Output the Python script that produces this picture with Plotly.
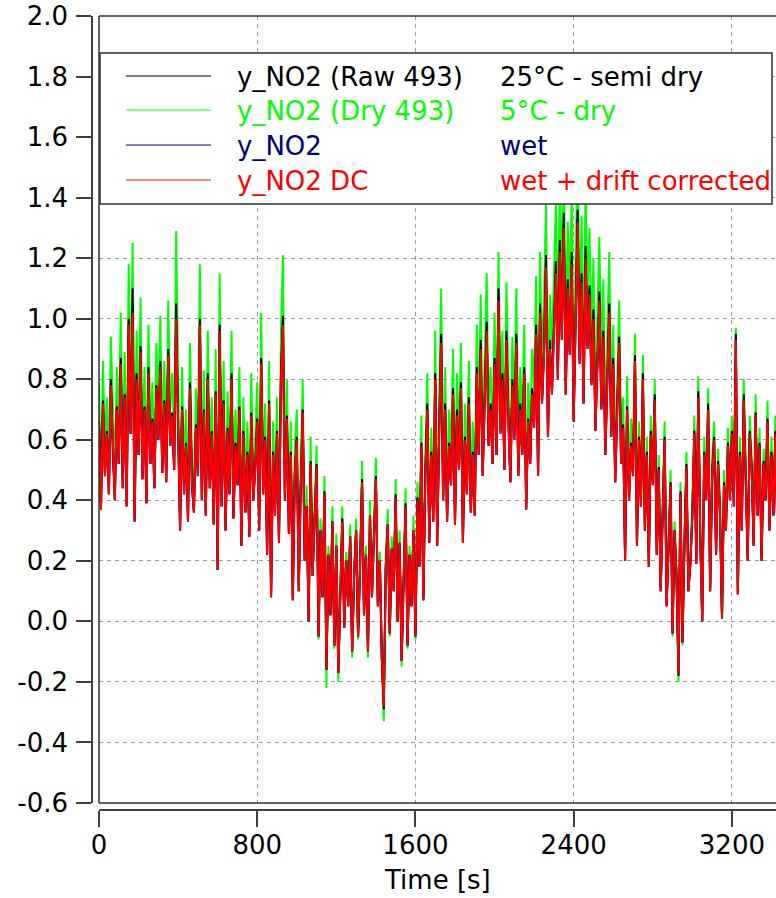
import plotly.graph_objects as go

# ---------------- data ----------------
time_s = list(range(0, 3500, 10))

y_dc = [
    0.65, 0.37, 0.72, 0.48, 0.62, 0.42, 0.78, 0.55, 0.40, 0.70,
    0.52, 0.85, 0.44, 0.74, 0.38, 0.98, 0.62, 1.02, 0.33, 0.80,
    0.55, 0.89, 0.47, 0.70, 0.39, 0.82, 0.52, 0.66, 0.44, 0.77,
    0.60, 0.84, 0.49, 0.72, 0.46, 0.88, 0.58, 0.68, 0.50, 1.00,
    0.62, 0.30, 0.70, 0.42, 0.58, 0.33, 0.77, 0.45, 0.36, 0.64,
    0.48, 0.98, 0.40, 0.69, 0.35, 0.80, 0.44, 0.62, 0.32, 0.75,
    0.17, 0.96, 0.38, 0.72, 0.30, 0.63, 0.42, 0.80, 0.34, 0.58,
    0.45, 0.70, 0.25, 0.62, 0.36, 0.55, 0.28, 0.68, 0.40, 0.50,
    0.66, 0.30, 0.85, 0.42, 0.60, 0.22, 0.72, 0.08, 0.55, 0.35,
    0.62, 0.26, 0.80, 0.98, 0.40, 0.67, 0.29, 0.55, 0.07, 0.48,
    0.60, 0.10, 0.44, 0.69, 0.20, 0.38, 0.00, 0.52, 0.15, 0.35,
    0.51, -0.05, 0.30, 0.08, 0.42, -0.16, 0.22, 0.02, 0.33, -0.08,
    0.25, -0.17, 0.12, 0.33, -0.02, 0.20, 0.05, 0.28, -0.10, 0.15,
    0.30, -0.05, 0.18, 0.46, 0.02, 0.22, -0.10, 0.35, 0.08, 0.27,
    0.47, 0.05, 0.20, -0.12, -0.28, 0.18, 0.32, -0.04, 0.24, 0.10,
    0.41, 0.00, 0.26, -0.13, 0.16, 0.38, -0.08, 0.22, 0.05, 0.30,
    -0.05, 0.40, 0.18, 0.58, 0.07, 0.48, 0.70, 0.26, 0.55, 0.33,
    0.80, 0.25, 0.62, 0.92, 0.40, 0.70, 0.33, 0.58, 0.45, 0.75,
    0.32, 0.68, 0.50, 0.77, 0.26, 0.60, 0.42, 0.72, 0.36, 0.55,
    0.35, 0.82, 0.55, 0.90, 0.48, 0.74, 0.96, 0.58, 0.70, 0.52,
    0.85, 0.55, 1.06, 0.62, 0.80, 0.50, 0.93, 0.66, 0.46, 0.78,
    0.60, 0.92, 0.48, 0.70, 0.55, 0.82, 0.37, 0.66, 0.52, 0.75,
    0.64, 0.95, 0.48, 1.02, 0.72, 0.88, 1.17, 0.61, 0.90, 0.75,
    0.98, 1.15, 0.80, 1.22, 0.93, 1.30, 0.75, 1.10, 0.88, 1.18,
    0.66, 1.05, 1.32, 0.85, 1.12, 0.72, 1.20, 0.90, 1.08, 0.78,
    1.00, 0.63, 0.88, 1.06, 0.70, 0.94, 0.55, 0.82, 1.02, 0.61,
    0.85, 0.46, 0.72, 0.92, 0.52, 0.64, 0.20, 0.70, 0.40, 0.58,
    0.48, 0.86, 0.25, 0.60, 0.38, 0.80, 0.30, 0.55, 0.18, 0.62,
    0.45, 0.73, 0.22, 0.50, 0.10, 0.38, 0.60, 0.05, 0.28, 0.45,
    -0.04, 0.30, 0.15, -0.17, 0.42, -0.07, 0.25, 0.51, 0.10, 0.19,
    0.35, 0.62, 0.19, 0.74, 0.28, 0.00, 0.55, 0.40, 0.70, 0.10,
    0.48, 0.60, 0.22, 0.52, 0.35, 0.01, 0.45, 0.30, 0.58, 0.40,
    0.62, 0.38, 0.93, 0.09, 0.55, 0.30, 0.73, 0.42, 0.20, 0.62,
    0.50, 0.25, 0.68, 0.35, 0.58, 0.20, 0.52, 0.40, 0.66, 0.30,
    0.55, 0.35, 0.62, 0.28, 0.50, 0.45, 0.60, 0.33, 0.52, 0.40,
]

y_wet = [
    0.65, 0.37, 0.72, 0.48, 0.62, 0.42, 0.78, 0.55, 0.40, 0.70,
    0.52, 0.85, 0.44, 0.74, 0.38, 0.98, 0.62, 1.03, 0.33, 0.80,
    0.55, 0.89, 0.47, 0.70, 0.39, 0.82, 0.52, 0.66, 0.44, 0.77,
    0.60, 0.84, 0.49, 0.72, 0.46, 0.88, 0.58, 0.68, 0.50, 1.01,
    0.62, 0.30, 0.70, 0.42, 0.58, 0.33, 0.77, 0.45, 0.36, 0.64,
    0.48, 0.98, 0.40, 0.69, 0.35, 0.80, 0.44, 0.62, 0.32, 0.75,
    0.17, 0.96, 0.38, 0.72, 0.30, 0.63, 0.42, 0.80, 0.34, 0.58,
    0.45, 0.70, 0.25, 0.62, 0.36, 0.55, 0.28, 0.68, 0.40, 0.50,
    0.66, 0.30, 0.85, 0.42, 0.60, 0.22, 0.72, 0.08, 0.55, 0.35,
    0.62, 0.26, 0.80, 0.98, 0.40, 0.67, 0.29, 0.55, 0.07, 0.48,
    0.60, 0.10, 0.44, 0.69, 0.20, 0.38, 0.00, 0.52, 0.15, 0.35,
    0.51, -0.05, 0.30, 0.08, 0.42, -0.16, 0.22, 0.02, 0.33, -0.08,
    0.25, -0.17, 0.12, 0.33, -0.02, 0.20, 0.05, 0.28, -0.10, 0.15,
    0.30, -0.05, 0.18, 0.46, 0.02, 0.22, -0.10, 0.35, 0.08, 0.27,
    0.47, 0.05, 0.20, -0.12, -0.28, 0.18, 0.32, -0.04, 0.24, 0.10,
    0.41, 0.00, 0.26, -0.13, 0.16, 0.38, -0.08, 0.22, 0.05, 0.30,
    -0.05, 0.40, 0.18, 0.58, 0.07, 0.48, 0.70, 0.26, 0.55, 0.33,
    0.80, 0.25, 0.62, 0.92, 0.40, 0.70, 0.33, 0.58, 0.45, 0.75,
    0.32, 0.68, 0.50, 0.77, 0.26, 0.60, 0.42, 0.72, 0.36, 0.55,
    0.35, 0.82, 0.55, 0.90, 0.48, 0.74, 0.96, 0.58, 0.70, 0.52,
    0.85, 0.55, 1.07, 0.62, 0.80, 0.50, 0.93, 0.66, 0.46, 0.78,
    0.60, 0.92, 0.48, 0.70, 0.55, 0.82, 0.37, 0.66, 0.52, 0.75,
    0.64, 0.95, 0.48, 1.02, 0.72, 0.88, 1.18, 0.61, 0.90, 0.75,
    0.98, 1.15, 0.80, 1.22, 0.93, 1.31, 0.75, 1.10, 0.88, 1.18,
    0.66, 1.05, 1.33, 0.85, 1.12, 0.72, 1.20, 0.90, 1.08, 0.78,
    1.00, 0.63, 0.88, 1.06, 0.70, 0.94, 0.55, 0.82, 1.02, 0.61,
    0.85, 0.46, 0.72, 0.92, 0.52, 0.64, 0.20, 0.70, 0.40, 0.58,
    0.48, 0.86, 0.25, 0.60, 0.38, 0.80, 0.30, 0.55, 0.18, 0.62,
    0.45, 0.73, 0.22, 0.50, 0.10, 0.38, 0.60, 0.05, 0.28, 0.45,
    -0.04, 0.30, 0.15, -0.17, 0.42, -0.07, 0.25, 0.51, 0.10, 0.19,
    0.35, 0.62, 0.19, 0.74, 0.28, 0.00, 0.55, 0.40, 0.70, 0.10,
    0.48, 0.60, 0.22, 0.52, 0.35, 0.01, 0.45, 0.30, 0.58, 0.40,
    0.62, 0.38, 0.94, 0.09, 0.55, 0.30, 0.73, 0.42, 0.20, 0.62,
    0.50, 0.25, 0.68, 0.35, 0.58, 0.20, 0.52, 0.40, 0.66, 0.30,
    0.55, 0.35, 0.62, 0.28, 0.50, 0.45, 0.60, 0.33, 0.52, 0.40,
]

y_raw = [
    0.66, 0.37, 0.73, 0.48, 0.63, 0.42, 0.80, 0.55, 0.40, 0.71,
    0.52, 0.87, 0.44, 0.75, 0.38, 1.00, 0.62, 1.10, 0.33, 0.82,
    0.55, 0.91, 0.47, 0.71, 0.39, 0.84, 0.52, 0.67, 0.44, 0.78,
    0.60, 0.86, 0.49, 0.73, 0.46, 0.90, 0.58, 0.69, 0.50, 1.05,
    0.62, 0.30, 0.71, 0.42, 0.59, 0.33, 0.79, 0.45, 0.36, 0.65,
    0.48, 1.00, 0.40, 0.70, 0.35, 0.82, 0.44, 0.63, 0.32, 0.76,
    0.17, 0.98, 0.38, 0.73, 0.30, 0.64, 0.42, 0.82, 0.34, 0.59,
    0.45, 0.71, 0.25, 0.63, 0.36, 0.56, 0.28, 0.69, 0.40, 0.51,
    0.67, 0.30, 0.87, 0.42, 0.61, 0.22, 0.73, 0.08, 0.56, 0.35,
    0.63, 0.26, 0.82, 1.01, 0.40, 0.68, 0.29, 0.56, 0.07, 0.49,
    0.61, 0.10, 0.45, 0.70, 0.20, 0.38, 0.00, 0.53, 0.15, 0.35,
    0.52, -0.05, 0.30, 0.08, 0.43, -0.16, 0.22, 0.02, 0.33, -0.08,
    0.25, -0.17, 0.12, 0.34, -0.02, 0.20, 0.05, 0.28, -0.10, 0.15,
    0.30, -0.05, 0.18, 0.47, 0.02, 0.22, -0.10, 0.35, 0.08, 0.27,
    0.48, 0.05, 0.20, -0.12, -0.29, 0.18, 0.32, -0.04, 0.24, 0.10,
    0.42, 0.00, 0.26, -0.13, 0.16, 0.39, -0.08, 0.22, 0.05, 0.30,
    -0.05, 0.41, 0.18, 0.59, 0.07, 0.49, 0.72, 0.26, 0.56, 0.33,
    0.82, 0.25, 0.63, 0.95, 0.40, 0.72, 0.33, 0.59, 0.45, 0.77,
    0.32, 0.70, 0.50, 0.79, 0.26, 0.61, 0.42, 0.74, 0.36, 0.56,
    0.35, 0.84, 0.55, 0.93, 0.48, 0.76, 0.99, 0.58, 0.72, 0.52,
    0.87, 0.55, 1.10, 0.63, 0.82, 0.50, 0.96, 0.67, 0.46, 0.80,
    0.61, 0.95, 0.48, 0.72, 0.55, 0.84, 0.37, 0.67, 0.52, 0.77,
    0.65, 0.98, 0.48, 1.05, 0.73, 0.90, 1.21, 0.61, 0.93, 0.76,
    1.01, 1.19, 0.80, 1.26, 0.95, 1.35, 0.75, 1.13, 0.89, 1.22,
    0.66, 1.08, 1.36, 0.86, 1.15, 0.72, 1.24, 0.91, 1.11, 0.79,
    1.03, 0.63, 0.90, 1.09, 0.71, 0.96, 0.55, 0.84, 1.05, 0.61,
    0.87, 0.46, 0.73, 0.94, 0.52, 0.65, 0.20, 0.71, 0.40, 0.59,
    0.49, 0.88, 0.25, 0.61, 0.38, 0.82, 0.30, 0.56, 0.18, 0.63,
    0.46, 0.75, 0.22, 0.51, 0.10, 0.39, 0.61, 0.05, 0.28, 0.46,
    -0.04, 0.30, 0.15, -0.18, 0.43, -0.07, 0.25, 0.52, 0.10, 0.19,
    0.35, 0.63, 0.19, 0.76, 0.28, 0.00, 0.56, 0.40, 0.72, 0.10,
    0.49, 0.61, 0.22, 0.53, 0.35, 0.01, 0.46, 0.30, 0.59, 0.40,
    0.63, 0.38, 0.95, 0.09, 0.56, 0.30, 0.75, 0.42, 0.20, 0.63,
    0.51, 0.25, 0.69, 0.35, 0.59, 0.20, 0.53, 0.40, 0.67, 0.30,
    0.56, 0.35, 0.63, 0.28, 0.51, 0.45, 0.61, 0.33, 0.53, 0.40,
]

y_dry = [
    0.78, 0.44, 0.86, 0.58, 0.74, 0.50, 0.94, 0.66, 0.48, 0.84,
    0.62, 1.02, 0.53, 0.89, 0.46, 1.18, 0.74, 1.25, 0.40, 0.96,
    0.66, 1.07, 0.56, 0.84, 0.47, 0.98, 0.62, 0.79, 0.53, 0.92,
    0.72, 1.01, 0.59, 0.86, 0.55, 1.06, 0.70, 0.82, 0.60, 1.29,
    0.74, 0.36, 0.84, 0.50, 0.70, 0.40, 0.92, 0.54, 0.43, 0.77,
    0.58, 1.18, 0.48, 0.83, 0.42, 0.96, 0.53, 0.74, 0.38, 0.90,
    0.20, 1.15, 0.46, 0.86, 0.36, 0.76, 0.50, 0.96, 0.41, 0.70,
    0.54, 0.84, 0.30, 0.74, 0.43, 0.66, 0.34, 0.82, 0.48, 0.60,
    0.79, 0.36, 1.02, 0.50, 0.72, 0.26, 0.86, 0.10, 0.66, 0.42,
    0.74, 0.31, 0.96, 1.21, 0.48, 0.80, 0.35, 0.66, 0.08, 0.58,
    0.70, 0.12, 0.52, 0.80, 0.24, 0.45, 0.00, 0.61, 0.18, 0.41,
    0.58, -0.06, 0.34, 0.09, 0.48, -0.22, 0.25, 0.02, 0.38, -0.09,
    0.29, -0.20, 0.14, 0.38, -0.02, 0.23, 0.06, 0.32, -0.12, 0.17,
    0.34, -0.06, 0.21, 0.53, 0.02, 0.25, -0.12, 0.40, 0.09, 0.31,
    0.54, 0.06, 0.23, -0.14, -0.33, 0.21, 0.37, -0.05, 0.28, 0.12,
    0.47, 0.00, 0.30, -0.15, 0.18, 0.44, -0.09, 0.25, 0.06, 0.35,
    -0.06, 0.46, 0.21, 0.68, 0.08, 0.56, 0.82, 0.30, 0.64, 0.38,
    0.96, 0.30, 0.74, 1.10, 0.48, 0.84, 0.40, 0.70, 0.54, 0.90,
    0.38, 0.82, 0.60, 0.92, 0.31, 0.72, 0.50, 0.86, 0.43, 0.66,
    0.42, 0.98, 0.66, 1.08, 0.58, 0.89, 1.15, 0.70, 0.84, 0.62,
    1.02, 0.66, 1.22, 0.74, 0.96, 0.60, 1.12, 0.79, 0.55, 0.94,
    0.72, 1.10, 0.58, 0.84, 0.66, 0.98, 0.44, 0.79, 0.62, 0.90,
    0.77, 1.14, 0.58, 1.22, 0.86, 1.06, 1.38, 0.73, 1.08, 0.90,
    1.18, 1.38, 0.96, 1.46, 1.12, 1.56, 0.90, 1.32, 1.06, 1.42,
    0.79, 1.26, 1.58, 1.02, 1.34, 0.86, 1.44, 1.08, 1.30, 0.94,
    1.20, 0.76, 1.06, 1.27, 0.84, 1.13, 0.66, 0.98, 1.22, 0.73,
    0.98, 0.53, 0.83, 1.06, 0.60, 0.74, 0.23, 0.81, 0.46, 0.67,
    0.53, 0.95, 0.28, 0.66, 0.42, 0.88, 0.33, 0.61, 0.20, 0.68,
    0.50, 0.80, 0.24, 0.55, 0.11, 0.42, 0.66, 0.06, 0.31, 0.50,
    -0.05, 0.33, 0.17, -0.20, 0.46, -0.08, 0.28, 0.56, 0.11, 0.21,
    0.39, 0.68, 0.21, 0.81, 0.31, 0.00, 0.61, 0.44, 0.77, 0.11,
    0.53, 0.66, 0.24, 0.57, 0.39, 0.01, 0.50, 0.33, 0.64, 0.44,
    0.68, 0.42, 0.97, 0.10, 0.61, 0.33, 0.80, 0.46, 0.22, 0.68,
    0.55, 0.28, 0.75, 0.39, 0.64, 0.22, 0.57, 0.44, 0.73, 0.33,
    0.61, 0.39, 0.68, 0.31, 0.55, 0.50, 0.66, 0.36, 0.57, 0.44,
]

series_names = ["y_NO2 (Raw 493)", "y_NO2 (Dry 493)", "y_NO2", "y_NO2 DC"]
series_notes = ["25°C - semi dry", "5°C - dry", "wet", "wet + drift corrected"]
series_colors = ["#000000", "#00ff00", "#000080", "#ff0000"]
series_values = [y_raw, y_dry, y_wet, y_dc]

x_ticks = [0, 800, 1600, 2400, 3200]
y_ticks = [-0.6, -0.4, -0.2, 0.0, 0.2, 0.4, 0.6, 0.8, 1.0, 1.2, 1.4, 1.6, 1.8, 2.0]

# ---------------- figure ----------------
W, H = 776, 898
ML, MR, MT, MB = 92, 0, 16, 88
PX0, PY1 = 99, 803          # plot-frame left / bottom pixel
fig = go.Figure()

draw_order = [1, 0, 2, 3]   # dry underneath, DC on top
for i in draw_order:
    fig.add_trace(go.Scatter(
        x=time_s, y=series_values[i], mode="lines",
        line=dict(color=series_colors[i], width=2),
        name=series_names[i], showlegend=False, hoverinfo="skip"))

axis_col = "#404040"
grid_col = "#9a9a9a"
fig.update_layout(
    width=W, height=H,
    margin=dict(l=ML, r=MR, t=MT, b=MB, pad=0),
    plot_bgcolor="white", paper_bgcolor="white",
    font=dict(family="DejaVu Sans", size=26, color="black"),
    showlegend=False,
    xaxis=dict(
        domain=[(PX0 - ML) / (W - ML - MR), 1], range=[0, 3423],
        anchor="free", position=0,
        tickvals=x_ticks, ticktext=[str(v) for v in x_ticks],
        ticks="outside", ticklen=16, tickwidth=1.5, tickcolor=axis_col,
        showline=True, linecolor=axis_col, linewidth=1.5,
        showgrid=True, gridcolor=grid_col, griddash="4px,4px", gridwidth=1,
        zeroline=False, ticklabelstandoff=-4,
    ),
    yaxis=dict(
        domain=[(H - MB - PY1) / (H - MT - MB), 1], range=[-0.6, 2.0],
        anchor="free", position=0,
        tickvals=y_ticks, ticktext=["%.1f" % v for v in y_ticks],
        ticks="outside", ticklen=15, tickwidth=1.5, tickcolor=axis_col,
        showline=True, linecolor=axis_col, linewidth=1.5,
        showgrid=True, gridcolor=grid_col, griddash="4px,4px", gridwidth=1,
        zeroline=False, ticklabelstandoff=3,
    ),
)

PX1 = W - MR
PY0 = MT
def dx(px):
    return (px - PX0) / (PX1 - PX0)
def dy(py):
    return (PY1 - py) / (PY1 - PY0)

frame = dict(type="line", xref="x domain", yref="y domain", layer="above",
             line=dict(color="#303030", width=1.5))
fig.add_shape(x0=0, x1=0, y0=0, y1=1, **frame)
fig.add_shape(x0=0, x1=1, y0=1, y1=1, **frame)
fig.add_shape(x0=0, x1=1, y0=0, y1=0, **frame)

# legend box (opaque, drawn over the data)
fig.add_shape(type="rect", xref="x domain", yref="y domain", layer="above",
              x0=dx(100), x1=dx(772), y0=dy(204), y1=dy(53),
              fillcolor="white", line=dict(color="#303030", width=1.5))
rows = [76, 110, 145, 180]
for k in range(4):
    fig.add_shape(type="line", xref="x domain", yref="y domain", layer="above",
                  x0=dx(126), x1=dx(211), y0=dy(rows[k]), y1=dy(rows[k]),
                  line=dict(color=series_colors[k], width=1))
    fig.add_annotation(xref="x domain", yref="y domain", x=dx(235), y=dy(rows[k] + 1),
                       text=series_names[k], showarrow=False, xanchor="left",
                       yanchor="middle", font=dict(color=series_colors[k], size=26))
    fig.add_annotation(xref="x domain", yref="y domain", x=dx(498), y=dy(rows[k] + 1),
                       text=series_notes[k], showarrow=False, xanchor="left",
                       yanchor="middle", font=dict(color=series_colors[k], size=26))

fig.add_annotation(xref="x domain", yref="y domain", x=0.5, y=dy(880),
                   text="Time [s]", showarrow=False, xanchor="center",
                   yanchor="middle", font=dict(size=26, color="black"))

fig.write_html("out.html",
               config={"displayModeBar": False},
               post_script="document.body.style.margin='0';"
                           "document.body.style.overflow='hidden';")
